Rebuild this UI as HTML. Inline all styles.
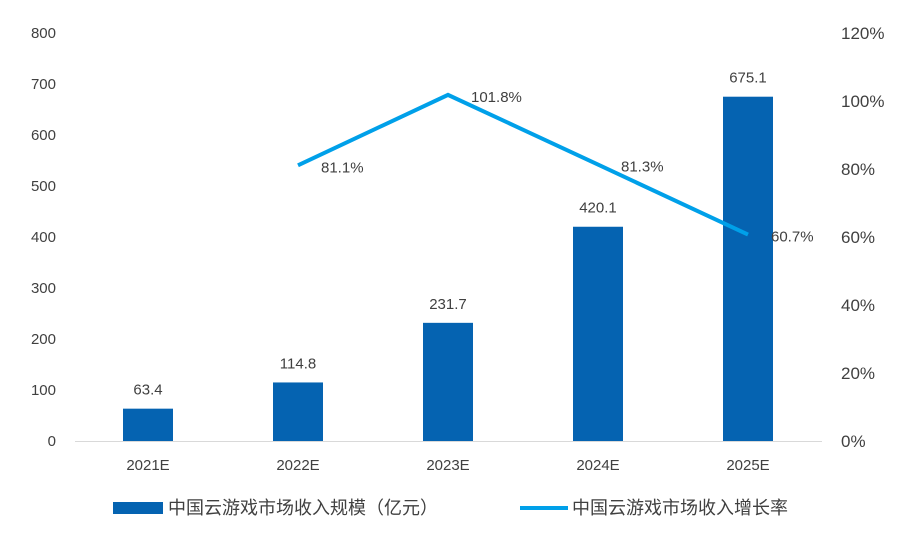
<!DOCTYPE html>
<html><head><meta charset="utf-8"><style>
body{margin:0;background:#fff;font-family:"Liberation Sans","Noto Sans CJK SC",sans-serif;}
svg text{font-family:"Liberation Sans","Noto Sans CJK SC",sans-serif;font-size:15px;fill:#404040;}
</style></head><body>
<svg width="903" height="530">
<g id="g"></g>
</svg>
<script>
const categories=["2021E","2022E","2023E","2024E","2025E"];
const revenue=[63.4,114.8,231.7,420.1,675.1];
const growth=[null,81.1,101.8,81.3,60.7];
const leftTicks=[0,100,200,300,400,500,600,700,800];
const rightTicks=[0,20,40,60,80,100,120];
const g=document.getElementById('g');
const NS='http://www.w3.org/2000/svg';
const y0=441,yTop=33;
const yL=v=>y0-(v/800)*(y0-yTop);
const yR=v=>y0-(v/120)*(y0-yTop);
const xC=i=>148+i*150;
function mk(t,a,txt){const e=document.createElementNS(NS,t);for(const k in a)e.setAttribute(k,a[k]);if(txt!=null)e.textContent=txt;g.appendChild(e);return e;}
leftTicks.forEach(v=>{const e=mk('text',{x:56,y:yL(v)+5,'text-anchor':'end'},v);

});
rightTicks.forEach(v=>{const e=mk('text',{x:841,y:yR(v)+6,style:'font-size:17px'},v+'%');

});
const ax=mk('line',{x1:75,x2:822,y1:y0+0.5,y2:y0+0.5,stroke:'#d9d9d9','stroke-width':1});


categories.forEach((c,i)=>{
const t=mk('text',{x:xC(i),y:470,'text-anchor':'middle'},c);


const b=mk('rect',{x:xC(i)-25,y:yL(revenue[i]),width:50,height:y0-yL(revenue[i]),fill:'#0563b1'});


const l=mk('text',{x:xC(i),y:yL(revenue[i])-14,'text-anchor':'middle'},revenue[i]);


});
let pts=[];
growth.forEach((v,i)=>{if(v!=null)pts.push(xC(i)+','+yR(v));});
const pl=mk('polyline',{points:pts.join(' '),fill:'none',stroke:'#00a0e9','stroke-width':4});


growth.forEach((v,i)=>{if(v==null)return;
const l=mk('text',{x:xC(i)+23,y:yR(v)+7},v+'%');

});
const s1=mk('rect',{x:113,y:502,width:50,height:12,fill:'#0563b1'});


const t1=mk('text',{x:168,y:514,style:'font-size:18px'},'中国云游戏市场收入规模（亿元）');


const s2=mk('line',{x1:520,x2:568,y1:508,y2:508,stroke:'#00a0e9','stroke-width':4});


const t2=mk('text',{x:572,y:514,style:'font-size:18px'},'中国云游戏市场收入增长率');


</script>
</body></html>
